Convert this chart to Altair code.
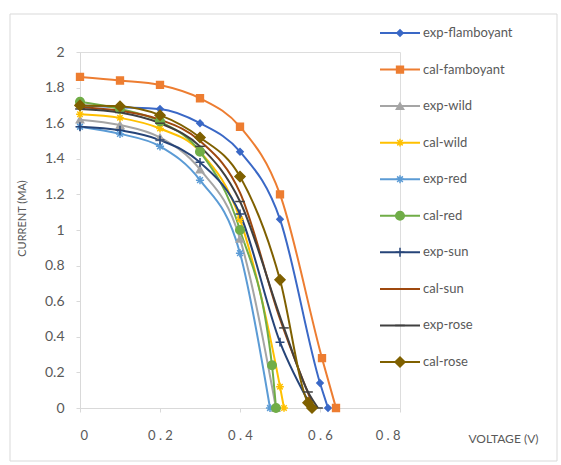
import altair as alt
import pandas as pd

series = ["exp-flamboyant", "cal-famboyant", "exp-wild", "cal-wild", "exp-red",
          "cal-red", "exp-sun", "cal-sun", "exp-rose", "cal-rose"]
colors = ["#3A68C6", "#ED7D31", "#A5A5A5", "#FFC000", "#5B9BD5",
          "#70AD47", "#264478", "#9E480E", "#404040", "#7F6000"]

v_exp_flam = [0, 0.1, 0.2, 0.3, 0.4, 0.5, 0.6, 0.62]
i_exp_flam = [1.70, 1.69, 1.68, 1.60, 1.44, 1.06, 0.14, 0]
v_cal_flam = [0, 0.1, 0.2, 0.3, 0.4, 0.5, 0.605, 0.64]
i_cal_flam = [1.86, 1.84, 1.815, 1.74, 1.58, 1.20, 0.28, 0]
v_exp_wild = [0, 0.1, 0.2, 0.3, 0.4, 0.49]
i_exp_wild = [1.62, 1.59, 1.52, 1.34, 0.95, 0]
v_cal_wild = [0, 0.1, 0.2, 0.3, 0.4, 0.5, 0.51]
i_cal_wild = [1.65, 1.63, 1.57, 1.44, 1.06, 0.12, 0]
v_exp_red = [0, 0.1, 0.2, 0.3, 0.4, 0.475]
i_exp_red = [1.58, 1.54, 1.47, 1.28, 0.87, 0]
v_cal_red = [0, 0.1, 0.2, 0.3, 0.4, 0.48, 0.49]
i_cal_red = [1.72, 1.68, 1.61, 1.44, 1.00, 0.24, 0]
v_exp_sun = [0, 0.1, 0.2, 0.3, 0.4, 0.5, 0.58]
i_exp_sun = [1.58, 1.56, 1.505, 1.38, 1.09, 0.37, 0]
v_cal_sun = [0, 0.1, 0.2, 0.3, 0.4, 0.5, 0.585]
i_cal_sun = [1.69, 1.67, 1.62, 1.50, 1.21, 0.50, 0]
v_exp_rose = [0, 0.1, 0.2, 0.3, 0.4, 0.51, 0.57, 0.595]
i_exp_rose = [1.68, 1.66, 1.60, 1.47, 1.16, 0.45, 0.09, 0]
v_cal_rose = [0, 0.1, 0.2, 0.3, 0.4, 0.5, 0.57, 0.58]
i_cal_rose = [1.70, 1.695, 1.645, 1.52, 1.30, 0.72, 0.03, 0]

x_ticks = [0, 0.2, 0.4, 0.6, 0.8]
y_ticks = [0, 0.2, 0.4, 0.6, 0.8, 1, 1.2, 1.4, 1.6, 1.8, 2]

star = "M-1,0H1M0,-1V1M-0.7,-0.7L0.7,0.7M-0.7,0.7L0.7,-0.7"
plus = "M-1,0H1M0,-1V1"
dash = "M-1,0H1"
shapes = ["diamond", "square", "triangle-up", star, star,
          "circle", plus, "circle", dash, "diamond"]
sizes = [40, 100, 40, 55, 55, 55, 65, 0, 55, 35]
widths = [2, 2, 2, 2, 2, 2, 2, 3, 2, 2]

pairs = [(v_exp_flam, i_exp_flam), (v_cal_flam, i_cal_flam), (v_exp_wild, i_exp_wild),
         (v_cal_wild, i_cal_wild), (v_exp_red, i_exp_red), (v_cal_red, i_cal_red),
         (v_exp_sun, i_exp_sun), (v_cal_sun, i_cal_sun), (v_exp_rose, i_exp_rose),
         (v_cal_rose, i_cal_rose)]

rows = []
for s, (vs, cs) in zip(series, pairs):
    for v, c in zip(vs, cs):
        rows.append({"series": s, "V": v, "I": c})
df = pd.DataFrame(rows)
pts = df[df["series"] != "cal-sun"]

cscale = alt.Scale(domain=series, range=colors)
sscale = alt.Scale(domain=series, range=shapes)
zscale = alt.Scale(domain=series, range=sizes)
wscale = alt.Scale(domain=series, range=widths)

FONT = "Lato"
GREY = "#595959"

x_axis = alt.Axis(values=x_ticks, title="VOLTAGE (V)", titleX=423, titleY=30,
                  titleAlign="center", titleBaseline="middle",
                  titleFontSize=12, titleFontWeight="normal", titleColor=GREY,
                  format="~g", labelOverlap=False,
                  labelExpr="replace(datum.label, '.', ' . ')",
                  labelFontSize=13, labelColor=GREY, labelPadding=17,
                  tickSize=4, tickColor="#D9D9D9", domainColor="#D9D9D9",
                  grid=False)
y_axis = alt.Axis(values=y_ticks, title="CURRENT (MA)", titleX=-58, titleY=166,
                  titleAngle=-90, titleAlign="center", titleBaseline="middle",
                  titleFontSize=11, titleFontWeight="normal", titleColor=GREY,
                  format="~g", labelOverlap=False,
                  labelFontSize=14, labelColor=GREY, labelPadding=12,
                  tickSize=4, tickColor="#D9D9D9", domainColor="#D9D9D9",
                  grid=False)


def xe():
    return alt.X("V:Q", scale=alt.Scale(domain=[0, 0.8], nice=False), axis=x_axis)


def ye():
    return alt.Y("I:Q", scale=alt.Scale(domain=[0, 2], nice=False), axis=y_axis)


lines = alt.Chart(df).mark_line(interpolate="monotone").encode(
    x=xe(), y=ye(),
    color=alt.Color("series:N", scale=cscale, legend=None),
    strokeWidth=alt.StrokeWidth("series:N", scale=wscale, legend=None),
    detail="series:N",
)

points = alt.Chart(pts).mark_point(opacity=1, strokeWidth=1.5).encode(
    x=xe(), y=ye(),
    fill=alt.Fill("series:N", scale=cscale, legend=None),
    stroke=alt.Stroke("series:N", scale=cscale, legend=None),
    shape=alt.Shape("series:N", scale=sscale, legend=None),
    size=alt.Size("series:N", scale=zscale, legend=None),
)
main = alt.layer(lines, points)

leg_df = pd.DataFrame({"series": series})
leg_y = alt.Y("series:N", scale=alt.Scale(domain=series, range=[-19, 310], type="point", padding=0),
              axis=None)
leg_lines = alt.Chart(leg_df).mark_rule().encode(
    x=alt.value(300), x2=alt.value(340), y=leg_y,
    color=alt.Color("series:N", scale=cscale, legend=None),
    strokeWidth=alt.StrokeWidth("series:N", scale=wscale, legend=None),
)
leg_pts = alt.Chart(leg_df[leg_df["series"] != "cal-sun"]).mark_point(opacity=1, strokeWidth=1.5).encode(
    x=alt.value(320), y=leg_y,
    fill=alt.Fill("series:N", scale=cscale, legend=None),
    stroke=alt.Stroke("series:N", scale=cscale, legend=None),
    shape=alt.Shape("series:N", scale=sscale, legend=None),
    size=alt.Size("series:N", scale=zscale, legend=None),
)
leg_text = alt.Chart(leg_df).mark_text(align="left", baseline="middle", fontSize=13,
                                       font=FONT, color=GREY).encode(
    x=alt.value(343), y=leg_y, text="series:N",
)
legend = alt.layer(leg_lines, leg_pts, leg_text)

frame = alt.Chart(pd.DataFrame({"a": [0]})).mark_rect(
    fill="transparent", stroke="#D9D9D9", strokeWidth=1).encode(
    x=alt.value(-70), x2=alt.value(477), y=alt.value(-38), y2=alt.value(409),
)

chart = alt.layer(frame, main, legend).resolve_scale(y="independent").properties(
    width=320, height=356,
    autosize=alt.AutoSizeParams(type="none"),
    padding={"left": 80, "top": 52, "right": 161, "bottom": 57},
).configure_view(stroke=None).configure(font=FONT)

chart.save("out.html", embed_options={"renderer": "svg", "actions": False})
